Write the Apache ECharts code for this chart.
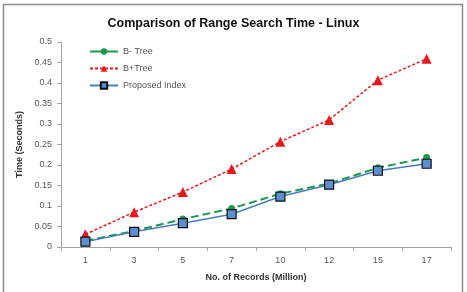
<!DOCTYPE html>
<html lang="en">
<head>
<meta charset="UTF-8">
<title>Comparison of Range Search Time - Linux</title>
<script src="https://cdn.jsdelivr.net/npm/echarts@6/dist/echarts.min.js"></script>
<style>
  html, body { margin: 0; padding: 0; background: #fff; }
</style>
</head>
<body>
<div id="main" style="width: 467px;height:292px;"></div>
<script>
// records (million)
var categories = ['1', '3', '5', '7', '10', '12', '15', '17'];
// time in seconds
var bTree = [0.015, 0.039, 0.068, 0.094, 0.130, 0.155, 0.193, 0.218];
var bPlusTree = [0.031, 0.085, 0.134, 0.190, 0.257, 0.310, 0.407, 0.459];
var proposedIndex = [0.013, 0.037, 0.058, 0.080, 0.123, 0.152, 0.186, 0.203];

var myChart = echarts.init(document.getElementById('main'));
var font = 'Liberation Sans';

var option = {
  animation: false,
  backgroundColor: '#fff',
  textStyle: { fontFamily: font },
  graphic: [{
    type: 'rect',
    shape: { x: 3.5, y: 4.5, width: 459, height: 300 },
    style: { fill: 'none', stroke: '#8c8c8c', lineWidth: 1.5 },
    silent: true
  }],
  title: {
    text: 'Comparison of Range Search Time - Linux',
    left: 'center',
    top: 12,
    textStyle: { fontSize: 12.5, fontWeight: 'bold', color: '#111', fontFamily: font }
  },
  legend: {
    orient: 'vertical',
    left: 84,
    top: 42,
    itemGap: 8,
    itemWidth: 28,
    itemHeight: 8,
    textStyle: { fontSize: 9, color: '#555' },
    data: [
      { name: 'B- Tree', lineStyle: { type: 'solid' } },
      { name: 'B+Tree' },
      { name: 'Proposed Index' }
    ]
  },
  grid: { left: 61, right: 16, top: 42, bottom: 45 },
  xAxis: {
    type: 'category',
    data: categories,
    boundaryGap: true,
    name: 'No. of Records (Million)',
    nameLocation: 'middle',
    nameGap: 26,
    nameTextStyle: { fontSize: 9, fontWeight: 'bold', color: '#333' },
    axisLine: { lineStyle: { color: '#a6a6a6' } },
    axisTick: { show: true, length: 4, lineStyle: { color: '#a6a6a6' } },
    axisLabel: { fontSize: 9, color: '#555', margin: 9 }
  },
  yAxis: {
    type: 'value',
    min: 0,
    max: 0.5,
    interval: 0.05,
    name: 'Time (Seconds)',
    nameLocation: 'middle',
    nameGap: 27,
    nameTextStyle: { fontSize: 9, fontWeight: 'bold', color: '#333' },
    axisLine: { show: true, lineStyle: { color: '#a6a6a6' } },
    axisTick: { show: true, length: 4, lineStyle: { color: '#a6a6a6' } },
    splitLine: { show: false },
    axisLabel: {
      fontSize: 9,
      color: '#555',
      margin: 9,
      formatter: function (v) { return String(Math.round(v * 100) / 100); }
    }
  },
  series: [
    {
      name: 'B- Tree',
      type: 'line',
      data: bTree,
      symbol: 'circle',
      symbolSize: 7,
      z: 3,
      lineStyle: { color: '#1a9a4a', width: 2, type: [8, 4] },
      itemStyle: { color: '#1a9a4a' }
    },
    {
      name: 'B+Tree',
      type: 'line',
      data: bPlusTree,
      symbol: 'triangle',
      symbolSize: 10,
      z: 2,
      lineStyle: { color: '#e8191c', width: 1.5, type: [3, 2] },
      itemStyle: { color: '#e8191c' }
    },
    {
      name: 'Proposed Index',
      type: 'line',
      data: proposedIndex,
      symbol: 'rect',
      symbolSize: 9,
      z: 4,
      lineStyle: { color: '#4a7ec2', width: 1.5 },
      itemStyle: { color: '#5b8fd1', borderColor: '#111', borderWidth: 1.2 }
    }
  ]
};

myChart.setOption(option);
</script>
</body>
</html>
